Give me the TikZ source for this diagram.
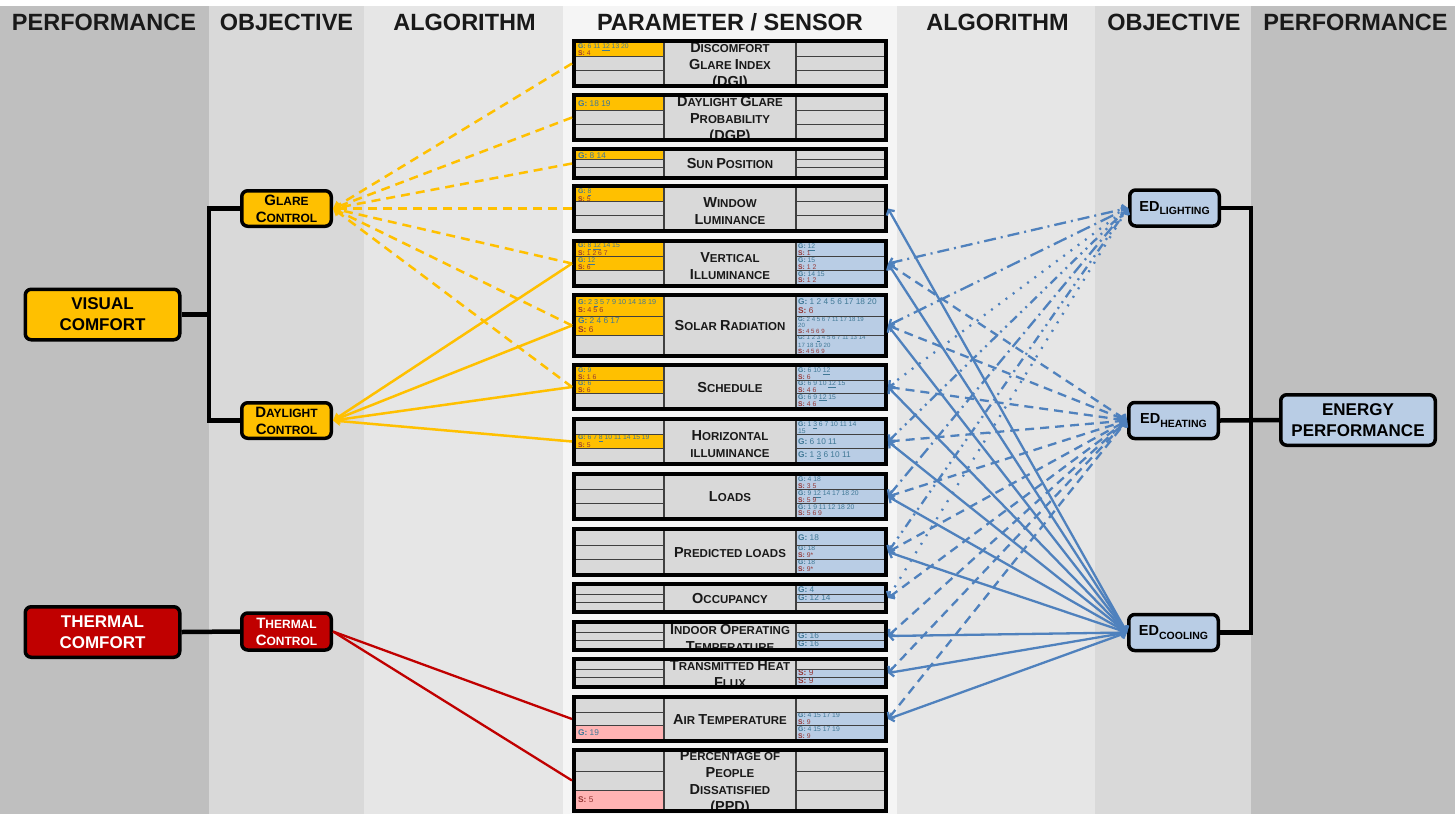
\documentclass[tikz,border=0pt]{standalone}
\usepackage{fontspec}
\setmainfont{Liberation Sans}
\usetikzlibrary{arrows.meta,calc}
\definecolor{perfc}{HTML}{BFBFBF}
\definecolor{objc}{HTML}{D9D9D9}
\definecolor{algc}{HTML}{E6E6E6}
\definecolor{parc}{HTML}{F5F5F5}
\definecolor{cgray}{HTML}{D9D9D9}
\definecolor{yel}{HTML}{FFC000}
\definecolor{lblue}{HTML}{B9CDE5}
\definecolor{cpink}{HTML}{FFB3B3}
\definecolor{tred}{HTML}{C00000}
\definecolor{lnblue}{HTML}{4F81BD}
\definecolor{gtxt}{HTML}{407896}
\definecolor{stxt}{HTML}{953735}
\definecolor{gridc}{HTML}{404040}
\newcommand\Gl[1]{\textcolor{gtxt}{\textbf{G:} #1}}
\newcommand\Sl[1]{\textcolor{stxt}{\textbf{S:} #1}}
\newcommand\Bg[1]{{\fontsize{14.5}{17}\selectfont #1}}
\newcommand\Bh[1]{{\fontsize{15}{17}\selectfont #1}}
\newcommand\Pbox[9]{%
 \pgfmathsetmacro\pT{#2+4}%
 \pgfmathsetmacro\pB{#3-4}%
 \pgfmathsetmacro\pA{\pT+(\pB-\pT)/3}%
 \pgfmathsetmacro\pC{\pT+2*(\pB-\pT)/3}%
 \pgfmathsetmacro\pM{(#2+#3)/2}%
 \pgfmathsetmacro\pH{#3-#2}%
 \fill[#4] (576,\pT) rectangle (664,\pA);
 \fill[#5] (576,\pA) rectangle (664,\pC);
 \fill[#6] (576,\pC) rectangle (664,\pB);
 \fill[cgray] (664,\pT) rectangle (796,\pB);
 \fill[#7] (796,\pT) rectangle (884,\pA);
 \fill[#8] (796,\pA) rectangle (884,\pC);
 \fill[#9] (796,\pC) rectangle (884,\pB);
 \node[inner sep=0pt, outer sep=0pt, minimum width=316pt, minimum height=\pH pt] (#1) at (730,\pM) {};
 \coordinate (#1L1) at (578,{(\pT+\pA)/2});
 \coordinate (#1L2) at (578,{(\pA+\pC)/2});
 \coordinate (#1L3) at (578,{(\pC+\pB)/2});
 \coordinate (#1R1) at (798,{(\pT+\pA)/2});
 \coordinate (#1R2) at (798,{(\pA+\pC)/2});
 \coordinate (#1R3) at (798,{(\pC+\pB)/2});
 \coordinate (#1L1a) at (576,\pT); \coordinate (#1L1b) at (664,\pA);
 \coordinate (#1L2a) at (576,\pA); \coordinate (#1L2b) at (664,\pC);
 \coordinate (#1L3a) at (576,\pC); \coordinate (#1L3b) at (664,\pB);
 \coordinate (#1R1a) at (796,\pT); \coordinate (#1R1b) at (884,\pA);
 \coordinate (#1R2a) at (796,\pA); \coordinate (#1R2b) at (884,\pC);
 \coordinate (#1R3a) at (796,\pC); \coordinate (#1R3b) at (884,\pB);
}
\newcommand\Ptext[3]{\begin{scope}\clip (576,#1+4) rectangle (884,#2-4); #3\end{scope}}
\newcommand\Ct[3][ct]{\begin{scope}\clip (#2a) rectangle (#2b); \node[#1] at (#2) {#3};\end{scope}}
\newcommand\Pfin[2]{%
 \pgfmathsetmacro\pT{#1+4}\pgfmathsetmacro\pB{#2-4}%
 \pgfmathsetmacro\pA{\pT+(\pB-\pT)/3}\pgfmathsetmacro\pC{\pT+2*(\pB-\pT)/3}%
 \draw[gridc, line width=0.9pt] (576,\pA) -- (664,\pA) (576,\pC) -- (664,\pC) (796,\pA) -- (884,\pA) (796,\pC) -- (884,\pC);
 \draw[gridc, line width=1.3pt] (664,\pT) -- (664,\pB) (796,\pT) -- (796,\pB);
 \draw[line width=4pt] (574,#1+2) rectangle (886,#2-2);
}
\begin{document}
\begin{tikzpicture}[x=1pt,y=-1pt,
 hdr/.style={inner sep=0pt, text=black!90, font=\bfseries\fontsize{23.5}{25}\selectfont},
 ttl/.style={inner sep=0pt, align=center, text=black!90, yshift=-2.5pt, font=\bfseries\fontsize{11.5}{17}\selectfont},
 ct/.style={anchor=west, inner sep=0pt, align=left, font=\fontsize{8.3}{9}\selectfont},
 cts/.style={anchor=west, inner sep=0pt, align=left, font=\fontsize{7.2}{8}\selectfont},
 ct2/.style={anchor=west, inner sep=0pt, align=left, font=\fontsize{6.8}{6.8}\selectfont},
 ct3/.style={anchor=west, inner sep=0pt, align=left, font=\fontsize{6.1}{6.1}\selectfont},
 objbox/.style={draw=black, line width=3.5pt, rounded corners=6pt, inner sep=0pt, align=center},
 bigobj/.style={objbox, minimum width=154.5pt, minimum height=50.5pt, font=\bfseries\fontsize{17}{21}\selectfont},
 smobj/.style={objbox, minimum width=89.5pt, minimum height=35.5pt, font=\bfseries\fontsize{12}{17}\selectfont},
 edobj/.style={objbox, minimum width=89.5pt, minimum height=36pt, fill=lblue, font=\bfseries\fontsize{14.5}{17}\selectfont},
 treeln/.style={draw=black, line width=4.5pt},
 yln/.style={draw=yel, line width=2.5pt, -{Triangle[length=7pt,width=9pt]}},
 ydash/.style={yln, dash pattern=on 9pt off 6pt},
 bln/.style={draw=lnblue, line width=2.3pt, {Straight Barb[length=4pt,width=9pt]}-{Straight Barb[length=4pt,width=9pt]}},
 bdash/.style={bln, dash pattern=on 9pt off 6pt},
 rln/.style={draw=tred, line width=2.3pt}
]
\useasboundingbox (0,0) rectangle (1455,814);
\fill[white] (0,0) rectangle (1455,814);
\fill[perfc] (0,6) rectangle (209,814);
\fill[objc] (209,6) rectangle (364,814);
\fill[algc] (364,6) rectangle (563,814);
\fill[parc] (563,6) rectangle (897,814);
\fill[algc] (897,6) rectangle (1095,814);
\fill[objc] (1095,6) rectangle (1251,814);
\fill[perfc] (1251,6) rectangle (1455,814);

% headers
\node[hdr] (h1) at (104,22) {PERFORMANCE};
\node[hdr] (h2) at (286.5,22) {OBJECTIVE};
\node[hdr] (h3) at (464.5,22) {ALGORITHM};
\node[hdr] (h4) at (730,22) {PARAMETER / SENSOR};
\node[hdr] (h5) at (997.5,22) {ALGORITHM};
\node[hdr] (h6) at (1174,22) {OBJECTIVE};
\node[hdr] (h7) at (1355.5,22) {PERFORMANCE};

% parameter boxes
\Pbox{dgi}{39}{88}{yel}{cgray}{cgray}{cgray}{cgray}{cgray}
\Ptext{39}{88}{\node[ttl] at (dgi) {\Bg{D}ISCOMFORT\\\Bg{G}LARE \Bg{I}NDEX\\\Bg{(DGI)}};
 \Ct[ct2]{dgiL1}{\Gl{6 11 \underline{12} 13 20}\\\Sl{4}}}
\Pfin{39}{88}

\Pbox{dgp}{93}{142}{yel}{cgray}{cgray}{cgray}{cgray}{cgray}
\Ptext{93}{142}{\node[ttl] at (dgp) {\Bg{D}AYLIGHT \Bg{G}LARE\\\Bg{P}ROBABILITY\\\Bg{(DGP)}};
 \Ct{dgpL1}{\Gl{18 19}}}
\Pfin{93}{142}

\Pbox{sun}{147}{180}{yel}{cgray}{cgray}{cgray}{cgray}{cgray}
\Ptext{147}{180}{\node[ttl, yshift=2pt] at (sun) {\Bg{S}UN \Bg{P}OSITION};
 \Ct{sunL1}{\Gl{8 14}}}
\Pfin{147}{180}

\Pbox{win}{184}{233}{yel}{cgray}{cgray}{cgray}{cgray}{cgray}
\Ptext{184}{233}{\node[ttl] at (win) {\Bg{W}INDOW\\\Bg{L}UMINANCE};
 \Ct[ct2]{winL1}{\Gl{\underline{8}}\\\Sl{5}}}
\Pfin{184}{233}

\Pbox{vert}{239}{288}{yel}{yel}{cgray}{lblue}{lblue}{lblue}
\Ptext{239}{288}{\node[ttl] at (vert) {\Bg{V}ERTICAL\\\Bg{I}LLUMINANCE};
 \Ct[ct2]{vertL1}{\Gl{\underline{8} \underline{12} 14 15}\\\Sl{1 \underline{2} 6 7}}
 \Ct[ct2]{vertL2}{\Gl{\underline{12}}\\\Sl{6}}
 \Ct[ct2]{vertR1}{\Gl{\underline{12}}\\\Sl{1}}
 \Ct[ct2]{vertR2}{\Gl{15}\\\Sl{1 2}}
 \Ct[ct2]{vertR3}{\Gl{14 15}\\\Sl{1 2}}}
\Pfin{239}{288}

\Pbox{solar}{293}{358}{yel}{yel}{cgray}{lblue}{lblue}{lblue}
\Ptext{293}{358}{\node[ttl, yshift=2pt] at (solar) {\Bg{S}OLAR \Bg{R}ADIATION};
 \Ct[cts]{solarL1}{\Gl{2 \underline{3} 5 7 9 10 14 18 19}\\\Sl{4 5 6}}
 \Ct{solarL2}{\Gl{2 4 6 17}\\\Sl{6}}
 \Ct{solarR1}{\Gl{1 2 4 5 6 17 18 20}\\\Sl{6}}
 \Ct[ct3]{solarR2}{\Gl{2 4 5 6 7 11 17 18 19}\\\textcolor{gtxt}{20}\\\Sl{4 5 6 9}}
 \Ct[ct3]{solarR3}{\Gl{1 2 \underline{3} 4 5 6 7 11 13 14}\\\textcolor{gtxt}{17 18 19 20}\\\Sl{4 5 6 9}}}
\Pfin{293}{358}

\Pbox{sched}{363}{411}{yel}{yel}{cgray}{lblue}{lblue}{lblue}
\Ptext{363}{411}{\node[ttl, yshift=2pt] at (sched) {\Bg{S}CHEDULE};
 \Ct[ct2]{schedL1}{\Gl{9}\\\Sl{1 6}}
 \Ct[ct2]{schedL2}{\Gl{6}\\\Sl{6}}
 \Ct[ct2]{schedR1}{\Gl{6 10 \underline{12}}\\\Sl{6}}
 \Ct[ct2]{schedR2}{\Gl{6 9 10 \underline{12} 15}\\\Sl{4 6}}
 \Ct[ct2]{schedR3}{\Gl{6 9 \underline{12} 15}\\\Sl{4 6}}}
\Pfin{363}{411}

\Pbox{horiz}{417}{466}{cgray}{yel}{cgray}{lblue}{lblue}{lblue}
\Ptext{417}{466}{\node[ttl] at (horiz) {\Bg{H}ORIZONTAL\\ILLUMINANCE};
 \Ct[ct2]{horizL2}{\Gl{6 7 \underline{8} 10 11 14 15 19}\\\Sl{5}}
 \Ct[ct2]{horizR1}{\Gl{1 \underline{3} 6 7 10 11 14}\\\textcolor{gtxt}{15}}
 \Ct{horizR2}{\Gl{6 10 11}}
 \Ct{horizR3}{\Gl{1 \underline{3} 6 10 11}}}
\Pfin{417}{466}

\Pbox{loads}{472}{521}{cgray}{cgray}{cgray}{lblue}{lblue}{lblue}
\Ptext{472}{521}{\node[ttl, yshift=2pt] at (loads) {\Bg{L}OADS};
 \Ct[ct2]{loadsR1}{\Gl{4 18}\\\Sl{3 5}}
 \Ct[ct2]{loadsR2}{\Gl{9 \underline{12} 14 17 18 20}\\\Sl{5 9}}
 \Ct[ct2]{loadsR3}{\Gl{1 9 11 12 18 20}\\\Sl{5 6 9}}}
\Pfin{472}{521}

\Pbox{pred}{527}{577}{cgray}{cgray}{cgray}{lblue}{lblue}{lblue}
\Ptext{527}{577}{\node[ttl, yshift=2pt] at (pred) {\Bg{P}REDICTED LOADS};
 \Ct{predR1}{\Gl{18}}
 \Ct[ct2]{predR2}{\Gl{18}\\\Sl{9*}}
 \Ct[ct2]{predR3}{\Gl{18}\\\Sl{9*}}}
\Pfin{527}{577}

\Pbox{occ}{582}{614}{cgray}{cgray}{cgray}{lblue}{lblue}{cgray}
\Ptext{582}{614}{\node[ttl, yshift=2pt] at (occ) {\Bg{O}CCUPANCY};
 \Ct{occR1}{\Gl{4}}
 \Ct{occR2}{\Gl{12 14}}}
\Pfin{582}{614}

\Pbox{indoor}{620}{652}{cgray}{cgray}{cgray}{cgray}{lblue}{lblue}
\Ptext{620}{652}{\node[ttl, yshift=1pt] at (indoor) {\Bg{I}NDOOR \Bg{O}PERATING\\\Bg{T}EMPERATURE};
 \Ct{indoorR2}{\Gl{16}}
 \Ct{indoorR3}{\Gl{16}}}
\Pfin{620}{652}

\Pbox{trans}{657}{689}{cgray}{cgray}{cgray}{cgray}{lblue}{lblue}
\Ptext{657}{689}{\node[ttl, yshift=1pt] at (trans) {\Bg{T}RANSMITTED \Bg{H}EAT\\\Bg{F}LUX};
 \Ct{transR2}{\Sl{9}}
 \Ct{transR3}{\Sl{9}}}
\Pfin{657}{689}

\Pbox{air}{695}{743}{cgray}{cgray}{cpink}{cgray}{lblue}{lblue}
\Ptext{695}{743}{\node[ttl, yshift=2pt] at (air) {\Bg{A}IR \Bg{T}EMPERATURE};
 \Ct{airL3}{\Gl{19}}
 \Ct[ct2]{airR2}{\Gl{4 15 17 19}\\\Sl{9}}
 \Ct[ct2]{airR3}{\Gl{4 15 17 19}\\\Sl{9}}}
\Pfin{695}{743}

\Pbox{ppd}{748}{813}{cgray}{cgray}{cpink}{cgray}{cgray}{cgray}
\Ptext{748}{813}{\node[ttl] at (ppd) {\Bg{P}ERCENTAGE OF\\\Bg{P}EOPLE\\\Bg{D}ISSATISFIED\\\Bg{(PPD)}};
 \Ct{ppdL3}{\Sl{5}}}
\Pfin{748}{813}

% objective / performance nodes
\node[bigobj, fill=yel] (visual) at (102.5,314.5) {VISUAL\\COMFORT};
\node[smobj, fill=yel] (glare) at (286.5,208.5) {\Bh{G}LARE\\\Bh{C}ONTROL};
\node[smobj, fill=yel] (daylight) at (286.5,420.5) {\Bh{D}AYLIGHT\\\Bh{C}ONTROL};
\node[bigobj, fill=tred, text=white] (thermal) at (102.5,632) {THERMAL\\COMFORT};
\node[smobj, fill=tred, text=white, minimum height=37pt] (tcontrol) at (286.5,631.5) {\Bh{T}HERMAL\\\Bh{C}ONTROL};

\node[edobj] (edl) at (1174.5,208) {ED\raisebox{-3.5pt}{\fontsize{10.5}{12}\selectfont LIGHTING}};
\node[edobj] (edh) at (1173.5,420.5) {ED\raisebox{-3.5pt}{\fontsize{10.5}{12}\selectfont HEATING}};
\node[edobj] (edc) at (1173.5,632.5) {ED\raisebox{-3.5pt}{\fontsize{10.5}{12}\selectfont COOLING}};
\node[bigobj, fill=lblue] (energy) at (1358,420) {ENERGY\\PERFORMANCE};

% trees
\coordinate (lj) at (209,0);
\coordinate (rj) at (1251,0);
\draw[treeln] (glare.west) -| (lj |- daylight.west) -- (daylight.west);
\draw[treeln] (visual.east) -- (visual.east -| lj);
\draw[treeln] (thermal.east) -- (tcontrol.west);
\draw[treeln] (edl.east) -| (rj |- edc.east) -- (edc.east);
\draw[treeln] (edh.east) -- (energy.west);

% yellow connectors
\foreach \p in {dgi,dgp,sun,win,vert,solar,sched}
  \draw[ydash] (\p.west) -- (glare.east);
\foreach \p in {vert,solar,sched,horiz}
  \draw[yln] (\p.west) -- (daylight.east);

% red connectors
\draw[rln] (tcontrol.east) -- (air.west);
\draw[rln] (tcontrol.east) -- (ppd.west);

% blue: lighting
\draw[bln, dash pattern=on 12pt off 5pt on 2pt off 5pt] (vert.east) -- (edl.west);
\draw[bln, dash pattern=on 14pt off 5pt on 2pt off 5pt] (solar.east) -- (edl.west);
\draw[bln, dash pattern=on 2pt off 7pt] (sched.east) -- (edl.west);
\draw[bln, dash pattern=on 9pt off 5pt on 2pt off 5pt on 2pt off 5pt] (horiz.east) -- (edl.west);
\draw[bln, dash pattern=on 12pt off 5pt on 2pt off 5pt] (loads.east) -- (edl.west);
\draw[bln, dash pattern=on 9pt off 5pt on 2pt off 5pt on 2pt off 5pt] (pred.east) -- (edl.west);
\draw[bln, dash pattern=on 2pt off 8pt] (occ.east) -- (edl.west);
% blue: heating
\foreach \p in {vert,solar,sched,horiz,loads,pred,occ,indoor,trans,air}
  \draw[bdash] (\p.east) -- (edh.west);
% blue: cooling
\foreach \p in {win,vert,solar,sched,horiz,loads,pred,indoor,trans,air}
  \draw[bln] (\p.east) -- (edc.west);
\end{tikzpicture}
\end{document}
